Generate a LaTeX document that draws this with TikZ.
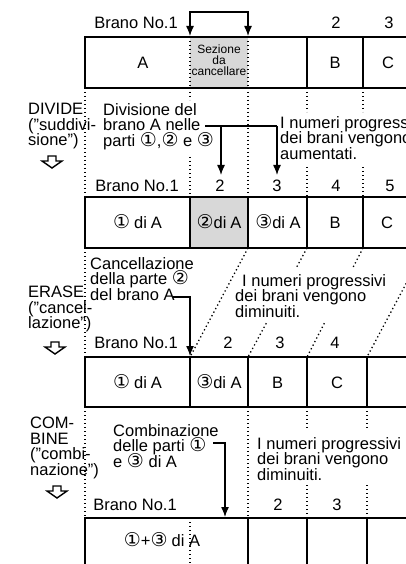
\documentclass[tikz,border=0pt]{standalone}
\usepackage{fontspec}
\setmainfont{Liberation Sans}
\newfontfamily\symf{DejaVu Sans}
\usetikzlibrary{arrows.meta,calc}
\newcommand\cn[1]{{\symf\fontsize{19}{14}\selectfont #1}}
\newcommand\gp{\hspace{4pt}}
\newcommand\qt{\symbol{34}}
\newcommand\bigfont{\fontsize{16.5}{15.5}\selectfont}
\definecolor{cellgray}{RGB}{216,216,216}
\begin{document}
\lineskiplimit=-20pt
\begin{tikzpicture}[x=1pt,y=-1pt,
  >={Latex[length=10pt,width=8pt]},
  box/.style={line width=1.8pt},
  sep/.style={line width=1.8pt},
  dotl/.style={line width=1.3pt, dash pattern=on 1.3pt off 2.7pt},
  conn/.style={line width=1.3pt},
  lab/.style={font=\bigfont, inner sep=0pt, anchor=base},
  blk/.style={font=\bigfont, inner sep=0pt, anchor=north west, align=left},
  hollow/.pic={\draw[line width=1.4pt,line join=miter] (-4,0) -- (4,0) -- (4,5) -- (10,5) -- (0,12) -- (-10,5) -- (-4,5) -- cycle;}
]
\useasboundingbox (0,0) rectangle (406,564);
\clip (0,0) rectangle (406,564);

% ---------- Row 1 ----------
\fill[cellgray] (190,37) rectangle (248,88);
\draw[box] (420,37) -- (85,37) -- (85,88) -- (420,88);
\draw[sep] (307,37) -- (307,88) (363,37) -- (363,88);
\draw[dotl] (190,37) -- (190,88) (248,37) -- (248,88);
\node[lab] (l1a) at (136,29) {Brano No.1};
\node[lab] (l1b) at (336,29) {2};
\node[lab] (l1c) at (389,29) {3};
\coordinate (s1) at (190,36);
\coordinate (s2) at (248,36);
\draw[conn,<->] (s1) -- (190,12) -- (248,12) -- (s2);
\node[lab] (c1a) at (143,69) {A};
\node[font=\fontsize{12}{11}\selectfont, inner sep=0pt, align=center, anchor=north] (c1s) at (219,45) {Sezione\\da\\cancellare};
\node[lab] (c1b) at (335,69) {B};
\node[lab] (c1c) at (388,69) {C};

% ---------- DIVIDE ----------
\draw[dotl] (85,88) -- (85,197) (190,88) -- (190,100) (190,157) -- (190,197)
  (248,88) -- (248,197) (307,88) -- (307,112) (307,167) -- (307,197)
  (363,88) -- (363,112) (363,167) -- (363,197);
\node[blk] (dv) at (28,103) {DIVIDE\\{(\qt suddivi-}\\sione\qt)};
\pic at (52,156) {hollow};
\node[blk] (dvt) at (103,103) {Divisione del\\brano A nelle\\parti \cn{①},\cn{②} e \cn{③}};
\node[blk] (dvr) at (280,116) {I numeri progressivi\\dei brani vengono\\aumentati.};
\coordinate (d0) at (205,126);
\coordinate (d1) at (221,126);
\coordinate (d2) at (277,126);
\draw[conn] (d0) -- (d2);
\draw[conn,->] (d1) -- (221,175);
\draw[conn,->] (d2) -- (277,175);

% ---------- Row 2 ----------
\fill[cellgray] (190,197) rectangle (248,248);
\draw[box] (420,197) -- (85,197) -- (85,248) -- (420,248);
\draw[sep] (190,197) -- (190,248) (248,197) -- (248,248) (307,197) -- (307,248) (363,197) -- (363,248);
\node[lab] (l2a) at (137,191) {Brano No.1};
\node[lab] (l2b) at (220,191) {2};
\node[lab] (l2c) at (277,191) {3};
\node[lab] (l2d) at (336,191) {4};
\node[lab] (l2e) at (390,191) {5};
\node[lab] (c2a) at (137.5,228.5) {\cn{①}\gp di\gp A};
\node[lab] (c2b) at (219,228.5) {\cn{②}di\gp A};
\node[lab] (c2c) at (278,228.5) {\cn{③}di A};
\node[lab] (c2d) at (335,228.5) {B};
\node[lab] (c2e) at (387,228.5) {C};

% ---------- ERASE ----------
\draw[dotl] (85,248) -- (85,357);
\coordinate (e1t) at (248,248); \coordinate (e1b) at (190,357);
\coordinate (e2t) at (307,248); \coordinate (e2b) at (248,357);
\coordinate (e3t) at (363,248); \coordinate (e3b) at (307,357);
\coordinate (e4t) at (425,248); \coordinate (e4b) at (367,357);
\draw[dotl] (e1t) -- (e1b);
\draw[dotl] (e2t) -- ($(e2t)!0.18!(e2b)$) ($(e2t)!0.69!(e2b)$) -- (e2b);
\draw[dotl] (e3t) -- ($(e3t)!0.18!(e3b)$) ($(e3t)!0.69!(e3b)$) -- (e3b);
\draw[dotl] (e4t) -- (e4b);
\node[blk] (er) at (28,286) {ERASE\\{(\qt cancel-}\\lazione\qt)};
\pic at (55,342) {hollow};
\node[blk] (ert) at (90,257) {Cancellazione\\della parte \cn{②}\\del brano A};
\node[blk] (err) at (235,274) {\hspace{7pt}I numeri progressivi\\dei brani vengono\\diminuiti.};
\coordinate (ea) at (173,297);
\draw[conn,->] (ea) -- (190,297) -- (190,356);

% ---------- Row 3 ----------
\draw[box] (420,357) -- (85,357) -- (85,407) -- (420,407);
\draw[sep] (190,357) -- (190,407) (248,357) -- (248,407) (307,357) -- (307,407) (367,357) -- (367,407);
\node[lab] (l3a) at (136,348) {Brano No.1};
\node[lab] (l3b) at (228,348) {2};
\node[lab] (l3c) at (280,348) {3};
\node[lab] (l3d) at (335,348) {4};
\node[lab] (c3a) at (137.5,388) {\cn{①}\gp di\gp A};
\node[lab] (c3b) at (219,388) {\cn{③}di A};
\node[lab] (c3c) at (277.5,388) {B};
\node[lab] (c3d) at (337,388) {C};

% ---------- COMBINE ----------
\draw[dotl] (85,407) -- (85,518) (248,407) -- (248,518)
  (307,407) -- (307,430) (307,485) -- (307,518)
  (367,407) -- (367,430) (367,485) -- (367,518);
\node[blk] (cb) at (30,417) {COM-\\BINE\\{(\qt combi-}\\nazione\qt)};
\pic at (57,486) {hollow};
\node[blk] (cbt) at (113,424) {Combinazione\\delle parti \cn{①}\\e \cn{③} di A};
\node[blk] (cbr) at (257,437) {I numeri progressivi\\dei brani vengono\\diminuiti.};
\coordinate (ca) at (213,443);
\draw[conn,->] (ca) -- (225,443) -- (225,517);

% ---------- Row 4 ----------
\draw[box] (85,580) -- (85,518) -- (420,518);
\draw[sep] (248,518) -- (248,580) (307,518) -- (307,580) (367,518) -- (367,580);
\draw[dotl] (190,518) -- (190,580);
\node[lab] (l4a) at (135,510) {Brano No.1};
\node[lab] (l4b) at (278,510) {2};
\node[lab] (l4c) at (337,510) {3};
\node[lab] (c4a) at (162,546) {\cn{①}+\cn{③}\gp di A};
\end{tikzpicture}
\end{document}
